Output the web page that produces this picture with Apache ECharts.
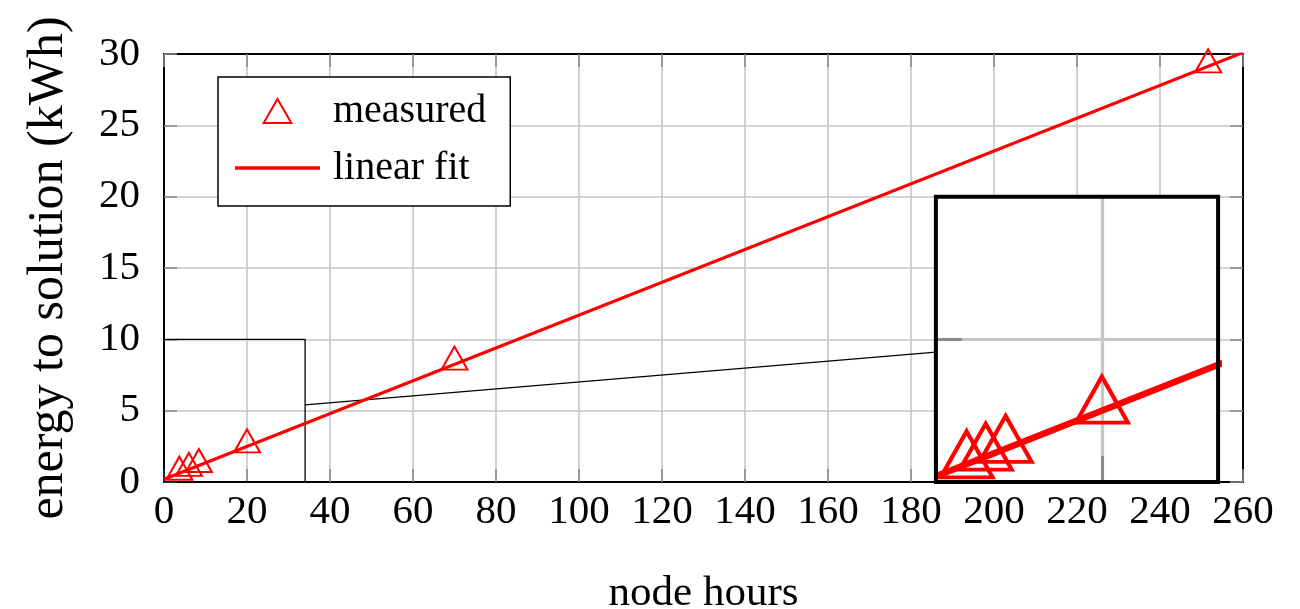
<!DOCTYPE html>
<html>
<head>
<meta charset="utf-8">
<script src="https://cdn.jsdelivr.net/npm/echarts@6/dist/echarts.min.js"></script>
<style>
  html, body { margin: 0; padding: 0; background: #fff; overflow: hidden; }
  #chart { width: 1300px; height: 609px; }
</style>
</head>
<body>
<div id="chart"></div>
<script>
// ---- data ----
const measuredHours  = [3.7, 6.0, 8.4, 20, 70, 251.6];
const measuredEnergy = [0.70, 0.97, 1.24, 2.62, 8.42, 29.25];
const fitHours  = [0, 260];
const fitEnergy = [0.2, 30.1];
// zoomed region (small rectangle) and where the magnified view sits
const zoomRegionHours  = [0, 34];
const zoomRegionEnergy = [0, 10];
const insetBoxHours  = [186, 254];
const insetBoxEnergy = [0, 20];
// connector line from the zoom rectangle to the inset
const connectorHours  = [34, 186];
const connectorEnergy = [5.4, 9.1];
// axes
const xTickStart = 0, xTickEnd = 260, xTickStep = 20;
const yTickStart = 0, yTickEnd = 30, yTickStep = 5;
const insetXTickStep = 20, insetYTickStep = 5;
const xTitle = 'node hours';
const yTitle = 'energy to solution (kWh)';
const legendNames = ['measured', 'linear fit'];

// ---- helpers ----
const zip = (a, b) => a.map((v, i) => [v, b[i]]);
const rectPath = (xs, ys) => [[xs[0], ys[0]], [xs[1], ys[0]], [xs[1], ys[1]], [xs[0], ys[1]], [xs[0], ys[0]]];

const FONT = "'Liberation Serif', 'Times New Roman', serif";
const RED = '#ff0000';
const GRIDC = '#c6c6c6';
const TICKC = '#8a8a8a';

const chart = echarts.init(document.getElementById('chart'), null, { renderer: 'canvas', width: 1300, height: 609 });

const mainAxisCommon = {
  gridIndex: 0,
  type: 'value',
  z: 1,
  axisLine: { show: true, onZero: false, lineStyle: { color: '#000', width: 2 } },
  axisTick: { show: true, inside: true, length: 13, lineStyle: { color: TICKC, width: 1.6 } },
};

const option = {
  animation: false,
  backgroundColor: '#fff',
  textStyle: { fontFamily: FONT },
  grid: [
    { left: 164, top: 54, width: 1079, height: 428, show: false, z: 0, outerBoundsMode: 'none', containLabel: false },
    { left: 935, top: 199, width: 283, height: 283, show: true, backgroundColor: '#fff', borderWidth: 0, z: 5, outerBoundsMode: 'none', containLabel: false }
  ],
  legend: {
    data: [
      { name: legendNames[0], icon: 'path://M0,-1 L0.866,0.5 L-0.866,0.5 Z' },
      { name: legendNames[1], icon: 'path://M0,0 L85,0 L85,3.6 L0,3.6 Z',
        itemStyle: { color: RED, borderWidth: 0 } }
    ],
    orient: 'vertical',
    left: 218, top: 77,
    padding: [11, 24, 15, 17],
    itemGap: 11,
    itemWidth: 85,
    itemHeight: 24,
    symbolKeepAspect: true,
    backgroundColor: '#fff',
    borderColor: '#000',
    borderWidth: 1.5,
    borderRadius: 0,
    selectedMode: false,
    z: 20,
    textStyle: { fontFamily: FONT, fontSize: 40, lineHeight: 46, color: '#000', padding: [0, 0, 0, 8] }
  },
  xAxis: [
    Object.assign({}, mainAxisCommon, {
      position: 'bottom',
      min: xTickStart, max: xTickEnd, interval: xTickStep,
      axisLabel: { show: true, color: '#000', fontSize: 41, fontFamily: FONT, margin: 10 },
      splitLine: { show: true, showMinLine: false, showMaxLine: false, lineStyle: { color: GRIDC, width: 1.6 } },
      name: xTitle, nameLocation: 'middle', nameGap: 90,
      nameTextStyle: { color: '#000', fontSize: 43, fontFamily: FONT }
    }),
    Object.assign({}, mainAxisCommon, {
      position: 'top',
      min: xTickStart, max: xTickEnd, interval: xTickStep,
      axisLabel: { show: false },
      splitLine: { show: false }
    }),
    {
      gridIndex: 1, type: 'value', z: 6,
      min: zoomRegionHours[0], max: zoomRegionHours[1], interval: insetXTickStep,
      axisLine: { show: false },
      axisLabel: { show: false },
      axisTick: { show: true, inside: true, length: 26, lineStyle: { color: TICKC, width: 3 } },
      splitLine: { show: true, showMinLine: false, showMaxLine: false, lineStyle: { color: GRIDC, width: 3.2 } }
    }
  ],
  yAxis: [
    Object.assign({}, mainAxisCommon, {
      position: 'left',
      min: yTickStart, max: yTickEnd, interval: yTickStep,
      axisLabel: { show: true, color: '#000', fontSize: 41, fontFamily: FONT, margin: 24 },
      splitLine: { show: true, showMinLine: false, showMaxLine: false, lineStyle: { color: GRIDC, width: 1.6 } },
      name: yTitle, nameLocation: 'middle', nameGap: 90, nameRotate: 90,
      nameTextStyle: { color: '#000', fontSize: 50, fontFamily: FONT }
    }),
    Object.assign({}, mainAxisCommon, {
      position: 'right',
      min: yTickStart, max: yTickEnd, interval: yTickStep,
      axisLabel: { show: false },
      splitLine: { show: false }
    }),
    {
      gridIndex: 1, type: 'value', z: 6,
      min: zoomRegionEnergy[0], max: zoomRegionEnergy[1], interval: insetYTickStep,
      axisLine: { show: false },
      axisLabel: { show: false },
      axisTick: { show: true, inside: true, length: 26, lineStyle: { color: TICKC, width: 3 } },
      splitLine: { show: true, showMinLine: false, showMaxLine: false, lineStyle: { color: GRIDC, width: 3.2 } }
    }
  ],
  series: [
    {
      name: 'zoom region', type: 'line', xAxisIndex: 0, yAxisIndex: 0, z: 2,
      data: rectPath(zoomRegionHours, zoomRegionEnergy),
      symbol: 'none', silent: true,
      lineStyle: { color: '#000', width: 1.3 }
    },
    {
      name: 'connector', type: 'line', xAxisIndex: 0, yAxisIndex: 0, z: 2,
      data: zip(connectorHours, connectorEnergy),
      symbol: 'none', silent: true,
      lineStyle: { color: '#000', width: 1.3 }
    },
    {
      name: legendNames[1], type: 'line', xAxisIndex: 0, yAxisIndex: 0, z: 3,
      data: zip(fitHours, fitEnergy),
      symbol: 'none',
      lineStyle: { color: RED, width: 3.2 },
      itemStyle: { color: RED }
    },
    {
      name: legendNames[0], type: 'scatter', xAxisIndex: 0, yAxisIndex: 0, z: 4,
      data: zip(measuredHours, measuredEnergy),
      symbol: 'triangle', symbolSize: [26, 23], symbolOffset: [0, -3.8],
      itemStyle: { color: 'rgba(255,255,255,0)', borderColor: RED, borderWidth: 2, opacity: 1 }
    },
    {
      name: 'linear fit (zoom)', type: 'line', xAxisIndex: 2, yAxisIndex: 2, z: 7,
      data: zip(fitHours, fitEnergy),
      symbol: 'none', clip: true,
      lineStyle: { color: RED, width: 6.5 }
    },
    {
      name: 'measured (zoom)', type: 'scatter', xAxisIndex: 2, yAxisIndex: 2, z: 8,
      data: zip(measuredHours, measuredEnergy),
      symbol: 'triangle', symbolSize: [52, 46], symbolOffset: [0, -7.7], clip: true,
      itemStyle: { color: 'rgba(255,255,255,0)', borderColor: RED, borderWidth: 4, opacity: 1 }
    }
  ]
};

chart.setOption(option);

// place the magnified view at its data-space box of the main axes
const pTL = chart.convertToPixel({ xAxisIndex: 0, yAxisIndex: 0 }, [insetBoxHours[0], insetBoxEnergy[1]]);
const pBR = chart.convertToPixel({ xAxisIndex: 0, yAxisIndex: 0 }, [insetBoxHours[1], insetBoxEnergy[0]]);
const insetRect = { x: pTL[0], y: pTL[1], width: pBR[0] - pTL[0], height: pBR[1] - pTL[1] };
chart.setOption({
  grid: [{}, { left: insetRect.x, top: insetRect.y, width: insetRect.width, height: insetRect.height }],
  graphic: [{
    type: 'rect', z: 30, silent: true,
    shape: insetRect,
    style: { fill: null, stroke: '#000', lineWidth: 4 }
  }]
});
</script>
</body>
</html>
